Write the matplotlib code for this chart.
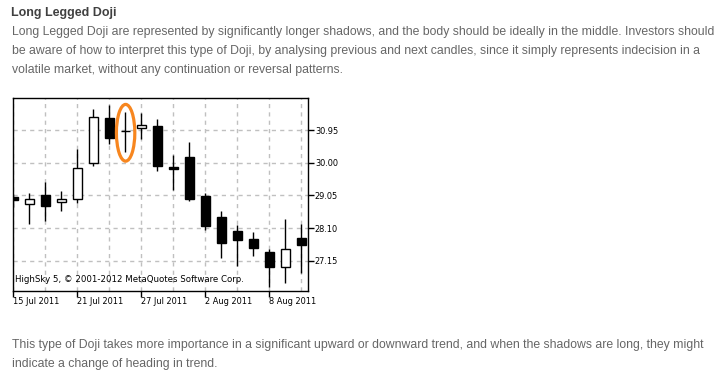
import matplotlib
matplotlib.use('Agg')
import matplotlib.pyplot as plt
from matplotlib.patches import Ellipse

W, H = 726, 377

# daily candles, 15 Jul 2011 .. 10 Aug 2011 (trading days)
dates = ['15 Jul 2011', '18 Jul 2011', '19 Jul 2011', '20 Jul 2011', '21 Jul 2011',
         '22 Jul 2011', '25 Jul 2011', '26 Jul 2011', '27 Jul 2011', '28 Jul 2011',
         '29 Jul 2011', '1 Aug 2011', '2 Aug 2011', '3 Aug 2011', '4 Aug 2011',
         '5 Aug 2011', '8 Aug 2011', '9 Aug 2011', '10 Aug 2011']
opens = [28.99, 28.79, 29.06, 28.865, 28.95, 30.00, 31.30, 30.91, 31.00, 31.07,
         29.88, 30.165, 29.02, 28.41, 28.01, 27.78, 27.40, 26.975, 27.80]
highs = [29.10, 29.11, 29.43, 29.18, 30.40, 31.56, 31.68, 31.48, 31.44, 31.27,
         30.22, 30.60, 29.11, 28.595, 28.18, 27.98, 27.48, 28.36, 28.22]
lows = [28.70, 28.21, 28.31, 28.60, 28.82, 29.91, 30.54, 30.30, 30.68, 29.76,
        29.205, 28.885, 28.04, 27.24, 27.00, 27.295, 26.39, 26.51, 26.80]
closes = [28.91, 28.935, 28.75, 28.935, 29.84, 31.32, 30.73, 30.91, 31.095, 29.91,
          29.82, 28.95, 28.17, 27.67, 27.76, 27.53, 26.975, 27.48, 27.615]
price_ticks = [30.95, 30.00, 29.05, 28.10, 27.15]
doji_index = 7

title = 'Long Legged Doji'
para1 = ['Long Legged Doji are represented by significantly longer shadows, and the body should be ideally in the middle. Investors should',
         'be aware of how to interpret this type of Doji, by analysing previous and next candles, since it simply represents indecision in a',
         'volatile market, without any continuation or reversal patterns.']
para2 = ['This type of Doji takes more importance in a significant upward or downward trend, and when the shadows are long, they might',
         'indicate a change of heading in trend.']
copyright = 'HighSky 5, \u00a9 2001-2012 MetaQuotes Software Corp.'

fig = plt.figure(figsize=(W / 100, H / 100), dpi=100)
fig.patch.set_facecolor('white')
renderer = fig.canvas.get_renderer()

# page text
text_font = 'Liberation Sans'
fig.text(11 / W, 1 - 13 / H, title, fontsize=9, fontweight='bold', color='#404040',
         family=text_font, va='center')

t = fig.text(12 / W, 1 - 32 / H, para1[0], fontsize=9, color='#666666', family=text_font, va='center')
w = t.get_window_extent(renderer).width
fs = 9 * 706 / w
t.set_fontsize(fs)
for k, line in enumerate(para1[1:]):
    fig.text(12 / W, 1 - (51 + 19 * k) / H, line, fontsize=fs, color='#666666',
             family=text_font, va='center')
for k, line in enumerate(para2):
    fig.text(12 / W, 1 - (345 + 18.5 * k) / H, line, fontsize=fs, color='#666666',
             family=text_font, va='center')

# chart
ax = fig.add_axes([13.3 / W, 1 - 291 / H, (308 - 13.3) / W, (291 - 97.7) / H])
x = list(range(len(dates)))
ax.vlines(x, lows, highs, color='black', lw=1, zorder=3)
heights = [abs(c - o) for o, c in zip(opens, closes)]
bottoms = [min(o, c) for o, c in zip(opens, closes)]
colors = ['white' if c > o else 'black' for o, c in zip(opens, closes)]
ax.bar(x, heights, bottom=bottoms, width=0.58, color=colors, edgecolor='black',
       lw=1, zorder=4)

ax.add_patch(Ellipse((doji_index + 0.02, 30.87), 1.15, 1.65, fill=False,
                     edgecolor='#f7861f', lw=2.3, zorder=5))

ax.set_xlim(0, 18.42)
ax.set_ylim(26.27, 31.89)

ax.set_xticks(x[::4])
ax.set_xticklabels(dates[::4], ha='left')
ax.set_xticks(x[::2], minor=True)
ax.set_yticks(price_ticks)
ax.set_yticklabels(['%.2f' % p for p in price_ticks])
ax.yaxis.tick_right()
ax.tick_params(axis='both', which='major', direction='out', length=4, width=1,
               labelsize=6.6, pad=1, colors='black')
ax.tick_params(axis='x', which='major', pad=0)
ax.tick_params(axis='x', which='minor', length=0)
ax.grid(True, which='both', axis='x', color='#c0c0c0', lw=1, ls=(0, (3, 3)))
ax.grid(True, which='major', axis='y', color='#c0c0c0', lw=1, ls=(0, (3, 3)))
ax.set_axisbelow(True)
for lab in ax.get_xticklabels() + ax.get_yticklabels():
    lab.set_family('DejaVu Sans')
    lab.set_fontstretch('condensed')
for sp in ax.spines.values():
    sp.set_color('black')
    sp.set_linewidth(1)

ax.text(0.006, 0.035, copyright, transform=ax.transAxes, fontsize=6.2,
        family='DejaVu Sans', va='bottom', ha='left', color='black', zorder=6)

fig.savefig('out.png', dpi=100, facecolor='white')
